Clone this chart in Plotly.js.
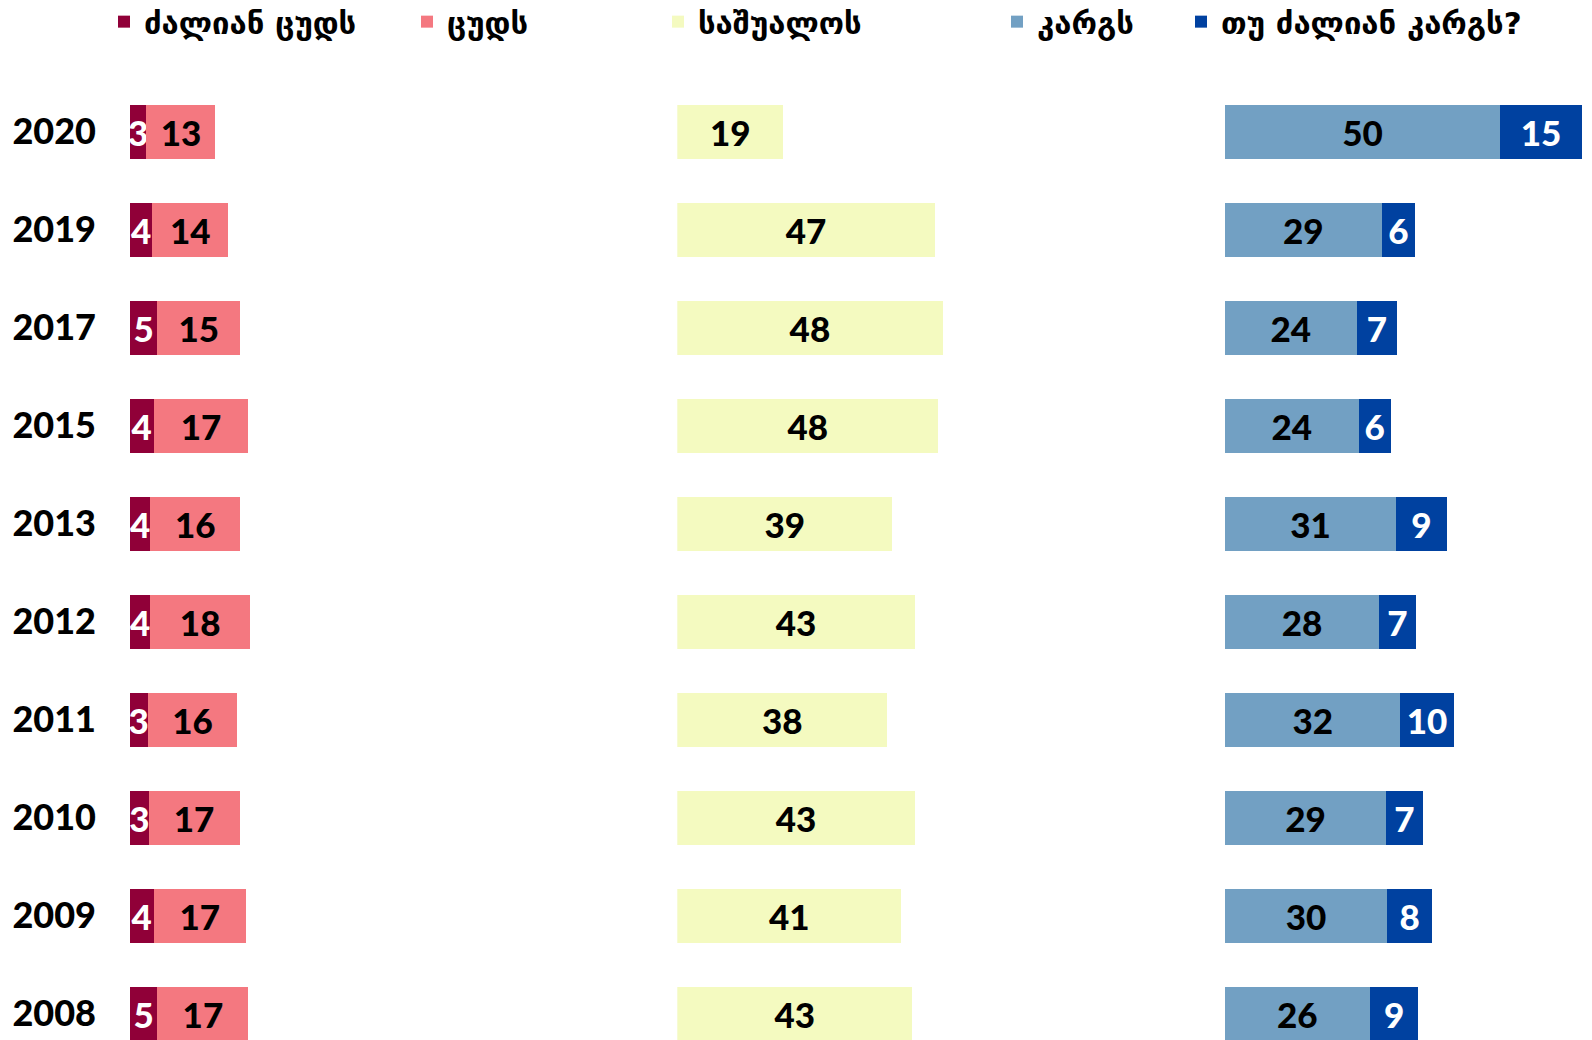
<!DOCTYPE html>
<html><head><meta charset="utf-8">
<script src="https://cdn.plot.ly/plotly-3.0.1.min.js"></script>
<style>html,body{margin:0;padding:0;background:#fff}</style>
</head><body><div id="chart" style="width:1592px;height:1040px"></div>
<script>
const years = ['2020','2019','2017','2015','2013','2012','2011','2010','2009','2008'];
const veryBad = [3.0, 4.1, 5.0, 4.3, 3.7, 3.7, 3.2, 3.4, 4.3, 5.0];
const bad = [12.6, 13.8, 15.1, 17.3, 16.4, 18.2, 16.4, 16.6, 16.9, 16.6];
const average = [19.3, 47.0, 48.4, 47.6, 39.2, 43.3, 38.3, 43.3, 40.9, 42.9];
const good = [50.2, 28.6, 24.0, 24.4, 31.2, 28.1, 32.0, 29.4, 29.6, 26.4];
const veryGood = [14.9, 6.1, 7.4, 5.8, 9.3, 6.7, 9.7, 6.7, 8.2, 8.9];
const seriesNames = ['ძალიან ცუდს', 'ცუდს', 'საშუალოს', 'კარგს', 'თუ ძალიან კარგს?'];
const colors = ['#900038', '#F47880', '#F4FAC0', '#72A0C3', '#0041A0'];

const numFont = 'Lato, "Liberation Sans", Arial, sans-serif';
const geoFont = '"DejaVu Sans", sans-serif';

function mk(vals, i, xa, legendId, txtColor) {
  return {
    type: 'bar', orientation: 'h', x: vals, y: years, xaxis: xa, yaxis: 'y',
    name: seriesNames[i], legend: legendId,
    marker: {color: colors[i]}, width: 0.551,
    texttemplate: '%{x:.0f}', textposition: 'inside', insidetextanchor: 'middle',
    textangle: 0, constraintext: 'none', cliponaxis: false,
    textfont: {family: numFont, size: 35, color: txtColor, weight: 900},
    hoverinfo: 'skip'
  };
}

const data = [
  mk(veryBad, 0, 'x', 'legend', '#ffffff'),
  mk(bad, 1, 'x', 'legend2', '#000000'),
  mk(average, 2, 'x2', 'legend3', '#000000'),
  mk(good, 3, 'x3', 'legend4', '#000000'),
  mk(veryGood, 4, 'x3', 'legend5', '#ffffff')
];

const pxPerUnit = 5.48, W = 1592;
function dom(startPx, range) { return [startPx / W, (startPx + pxPerUnit * range) / W]; }
const xbase = {showgrid: false, zeroline: false, showticklabels: false, ticks: '', showline: false, fixedrange: true};
const legY = 1 - 22 / 1040;
function leg(centerPx) {
  return {x: (centerPx - 23) / W, y: legY, xanchor: 'left', yanchor: 'middle', orientation: 'h',
    bgcolor: 'rgba(0,0,0,0)', borderwidth: 0,
    font: {family: geoFont, size: 31, color: '#000', weight: 'bold'}};
}

const layout = {
  width: 1592, height: 1040,
  margin: {l: 0, r: 0, t: 0, b: 0, autoexpand: false},
  paper_bgcolor: '#fff', plot_bgcolor: '#fff',
  barmode: 'stack', showlegend: true,
  xaxis: Object.assign({}, xbase, {domain: dom(130, 70), range: [0, 70], anchor: 'y'}),
  xaxis2: Object.assign({}, xbase, {domain: dom(677.3, 70), range: [0, 70], anchor: 'y'}),
  xaxis3: Object.assign({}, xbase, {domain: dom(1225, 66), range: [0, 66], anchor: 'y'}),
  yaxis: {type: 'category', categoryorder: 'array', categoryarray: years,
    range: [9.268, -1.344], showgrid: false, zeroline: false, ticks: '', showline: false,
    ticklabelstandoff: 33, anchor: 'x', fixedrange: true,
    tickfont: {family: numFont, size: 36, color: '#000', weight: 900}},
  legend: leg(127), legend2: leg(430), legend3: leg(681), legend4: leg(1020), legend5: leg(1204)
};

Plotly.newPlot('chart', data, layout, {displayModeBar: false, staticPlot: true});
</script></body></html>
